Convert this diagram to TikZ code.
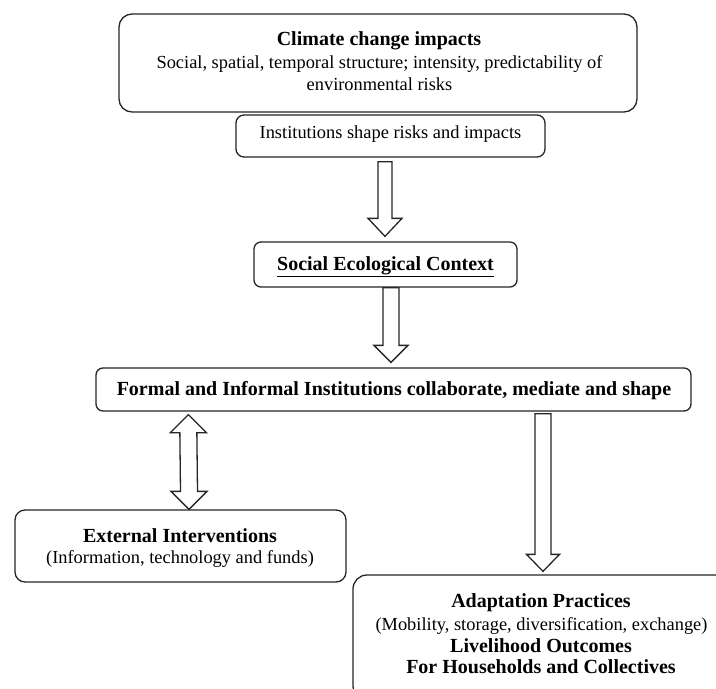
\documentclass[tikz,border=0pt]{standalone}
\usepackage{fontspec}
\setmainfont{Liberation Serif}
\usetikzlibrary{calc}
\newcommand{\regtxt}{\fontsize{18.4}{22}\selectfont}
\newcommand{\boldtxt}{\fontsize{20}{22}\selectfont\bfseries}
\newcommand{\fatdown}[5]{%
  \draw[arrowline] ($(#1)+(-#3,0)$) -- ($(#2)+(-#3,-#5)$) -- ($(#2)+(-#4,-#5)$) -- (#2)
    -- ($(#2)+(#4,-#5)$) -- ($(#2)+(#3,-#5)$) -- ($(#1)+(#3,0)$) -- cycle;}
\begin{document}
\begin{tikzpicture}[x=1pt,y=-1pt,
  box/.style={draw=black!85, line width=1.3pt, fill=white, inner sep=0pt, rounded corners=#1},
  box/.default=8pt,
  txt/.style={anchor=base, inner sep=0pt, text=black},
  arrowline/.style={draw=black!85, line width=1.3pt, fill=white, line join=miter}]
\useasboundingbox (0,0) rectangle (716,689);
\clip (0,0) rectangle (716,689);
\fill[white] (0,0) rectangle (716,689);
% boxes
\node[box=13pt, minimum width=518pt, minimum height=98pt] (top) at (378,63) {};
\node[box=8pt, minimum width=309pt, minimum height=42pt] (inst) at (390.5,136) {};
\node[box=7pt, minimum width=263pt, minimum height=45pt] (sec) at (385.5,264.5) {};
\node[box=7pt, minimum width=595pt, minimum height=43pt] (formal) at (393.5,389.5) {};
\node[box=10pt, minimum width=331pt, minimum height=72pt] (ext) at (180.5,546) {};
\node[box=14pt, minimum width=376pt, minimum height=125pt] (adapt) at (541,637.5) {};
% texts
\node[txt] (t1) at (379,45) {\boldtxt Climate change impacts};
\node[txt] (t2) at (379.5,68) {\regtxt Social, spatial, temporal structure; intensity, predictability of};
\node[txt] (t3) at (379.5,90) {\regtxt environmental risks};
\node[txt] (t4) at (390.5,138) {\regtxt Institutions shape risks and impacts};
\node[txt] (t5) at (385.5,270) {\boldtxt \underline{Social Ecological Context}};
\node[txt] (t6) at (394,395) {\boldtxt Formal and Informal Institutions collaborate, mediate and shape};
\node[txt] (t7) at (180,542) {\boldtxt External Interventions};
\node[txt] (t8) at (180,563) {\regtxt (Information, technology and funds)};
\node[txt] (t9) at (541,607) {\boldtxt Adaptation Practices};
\node[txt] (t10) at (541.5,630) {\regtxt (Mobility, storage, diversification, exchange)};
\node[txt] (t11) at (541,652) {\boldtxt Livelihood Outcomes};
\node[txt] (t12) at (541,673) {\boldtxt For Households and Collectives};
% arrow end points
\coordinate (a1s) at ($(inst.south)+(-5.5,4)$);
\coordinate (a1e) at ($(sec.north)+(-0.5,-5)$);
\coordinate (a2s) at ($(sec.south)+(5.5,0)$);
\coordinate (a2e) at ($(formal.north)+(-2.5,-5)$);
\coordinate (dT) at ($(formal.south west)+(93,3)$);
\coordinate (dB) at ($(ext.north)+(8.5,0)$);
\coordinate (a3s) at ($(formal.south)+(149.5,2)$);
\coordinate (a3e) at ($(adapt.north)+(2,-3)$);
% arrows
\fatdown{a1s}{a1e}{7}{17}{18}
\fatdown{a2s}{a2e}{8}{17}{17}
\fatdown{a3s}{a3e}{8}{16.5}{17}
\draw[arrowline] (dT) -- ($(dT)+(18,18)$) -- ($(dT)+(8.5,18)$) -- ($(dB)+(8.5,-18)$)
  -- ($(dB)+(18,-18)$) -- (dB) -- ($(dB)+(-18,-18)$) -- ($(dB)+(-8.5,-18)$)
  -- ($(dT)+(-8.5,18)$) -- ($(dT)+(-18,18)$) -- cycle;
\end{tikzpicture}
\end{document}
